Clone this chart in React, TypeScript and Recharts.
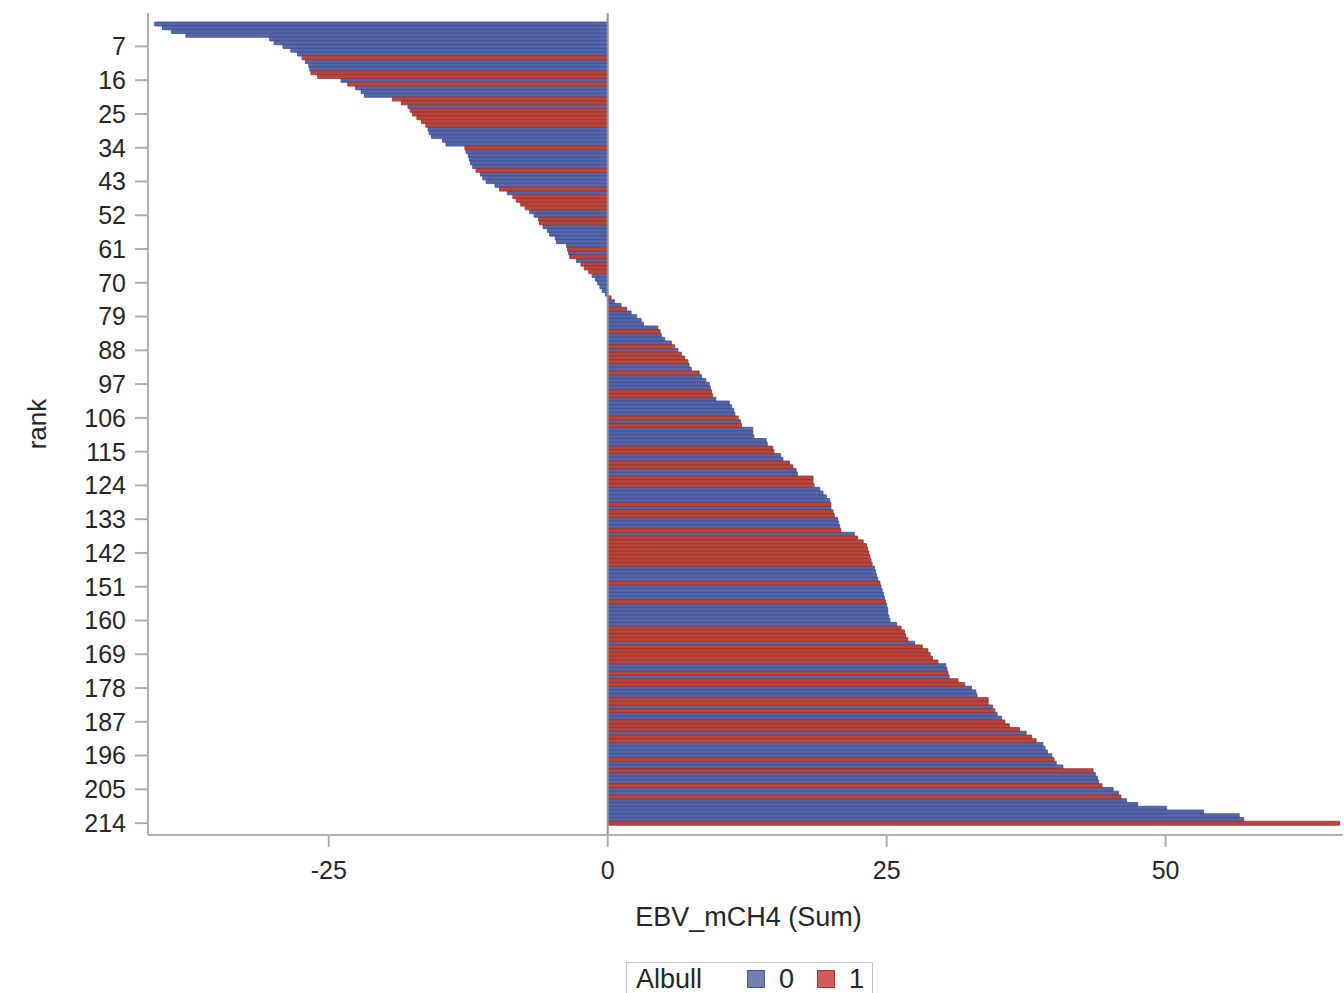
import React from "react";
import { BarChart, Bar, XAxis, YAxis, ReferenceLine } from "recharts";

// EBV_mCH4 sums by rank (1 = lowest)
const ebv = [
  -40.6, -39.9, -39.1, -37.8, -30.3, -29.9, -29.1, -28.4, -27.8, -27.4,
  -27.1, -26.8, -26.7, -26.6, -26.0, -23.9, -23.3, -22.6, -22.1, -21.8,
  -19.3, -18.5, -17.9, -17.7, -17.5, -17.1, -16.7, -16.3, -16.1, -16.0,
  -15.8, -14.8, -14.5, -12.8, -12.7, -12.5, -12.4, -12.3, -12.1, -11.8,
  -11.4, -11.2, -10.9, -10.1, -9.7, -9.0, -8.5, -8.2, -7.8, -7.4,
  -7.0, -6.6, -6.2, -6.1, -5.8, -5.4, -5.2, -4.7, -4.6, -3.7,
  -3.6, -3.5, -3.4, -2.8, -2.4, -2.1, -1.7, -1.4, -1.1, -0.9,
  -0.7, -0.5, -0.2,
  0.3, 0.6, 1.2, 1.7, 2.1, 2.6, 3.0, 3.2, 4.5, 4.7,
  4.8, 5.1, 5.7, 6.0, 6.3, 6.6, 6.9, 7.2, 7.3, 7.5,
  8.2, 8.4, 8.8, 9.1, 9.2, 9.3, 9.4, 9.7, 10.9, 11.1,
  11.3, 11.4, 11.7, 11.9, 12.0, 13.0, 13.0, 13.1, 14.2, 14.3,
  14.8, 14.9, 15.5, 15.7, 16.3, 16.6, 16.9, 17.0, 18.4, 18.4,
  18.5, 19.0, 19.3, 19.6, 19.9, 20.0, 20.0, 20.2, 20.3, 20.6,
  20.7, 20.8, 20.9, 22.1, 22.4, 22.9, 23.2, 23.3, 23.4, 23.5,
  23.6, 23.7, 23.9, 24.0, 24.1, 24.2, 24.4, 24.5, 24.6, 24.7,
  24.8, 24.9, 25.0, 25.1, 25.1, 25.2, 25.3, 25.9, 26.3, 26.6,
  26.7, 26.9, 27.5, 28.2, 28.7, 28.9, 29.1, 29.6, 30.3, 30.4,
  30.5, 30.6, 31.4, 32.0, 32.6, 33.0, 33.1, 34.1, 34.1, 34.5,
  34.7, 34.9, 35.3, 35.6, 36.0, 36.9, 37.5, 38.0, 38.4, 39.0,
  39.2, 39.4, 39.8, 40.0, 40.2, 40.8, 43.5, 43.7, 43.9, 44.0,
  44.3, 45.3, 45.8, 46.0, 46.5, 47.5, 50.1, 53.4, 56.6, 57.0,
  65.6,
];

// Albull group of each rank (0 / 1)
const albull = [
  0, 0, 0, 0, 0, 0, 0, 0, 0, 1,
  0, 0, 0, 1, 1, 0, 1, 0, 0, 0,
  1, 1, 0, 1, 1, 1, 1, 1, 0, 0,
  0, 0, 0, 1, 0, 0, 0, 0, 0, 1,
  0, 0, 0, 0, 1, 0, 1, 1, 1, 1,
  0, 0, 1, 1, 0, 0, 0, 0, 0, 0,
  1, 0, 1, 0, 1, 1, 1, 0, 0, 0,
  0, 0, 0,
  1, 0, 0, 1, 0, 0, 0, 0, 0, 1,
  0, 0, 0, 1, 0, 1, 1, 1, 0, 0,
  1, 0, 0, 0, 0, 1, 1, 0, 0, 0,
  0, 0, 1, 0, 1, 0, 0, 0, 0, 0,
  1, 1, 0, 0, 1, 1, 0, 0, 1, 1,
  1, 0, 0, 0, 0, 1, 0, 1, 1, 0,
  0, 0, 1, 0, 1, 1, 1, 1, 1, 1,
  1, 1, 0, 0, 0, 0, 1, 0, 0, 0,
  0, 1, 0, 0, 0, 0, 0, 0, 1, 1,
  1, 1, 0, 1, 1, 1, 1, 1, 0, 0,
  1, 0, 1, 1, 0, 0, 0, 1, 1, 0,
  1, 0, 0, 1, 1, 1, 0, 1, 1, 0,
  0, 0, 0, 1, 0, 0, 1, 0, 0, 0,
  1, 0, 0, 1, 0, 0, 0, 0, 0, 0,
  1,
];

const ranks = ebv.map((_, i) => i + 1);
const rankTicks = [7, 16, 25, 34, 43, 52, 61, 70, 79, 88, 97, 106, 115, 124, 133, 142, 151, 160, 169, 178, 187, 196, 205, 214];
const xTicks = [-25, 0, 25, 50];

const data = ranks.map((rank, i) => ({
  rank,
  g0: albull[i] === 0 ? ebv[i] : 0,
  g1: albull[i] === 1 ? ebv[i] : 0,
}));

const BLUE = "#5567a9";
const BLUE_EDGE = "#3d4f92";
const RED = "#b9463d";
const RED_EDGE = "#96342b";
const FRAME = "#a9afb6";
const TEXT = "#262626";

const rankLabel = (props: any) => {
  const vb = props.viewBox;
  const cx = vb.x + 37;
  const cy = vb.y + vb.height / 2;
  return (
    <text x={cx} y={cy} transform={`rotate(-90 ${cx} ${cy})`} textAnchor="middle" dominantBaseline="central" fontSize={26} fill={TEXT}>
      rank
    </text>
  );
};

const ebvLabel = (props: any) => {
  const vb = props.viewBox;
  return (
    <text x={vb.x + vb.width / 2 + 3} y={vb.y + 82} textAnchor="middle" dominantBaseline="central" fontSize={27} fill={TEXT}>
      EBV_mCH4 (Sum)
    </text>
  );
};

export default function App() {
  return (
    <div style={{ position: "absolute", left: 0, top: 0, fontFamily: "'Liberation Sans', Arial, sans-serif" }}>
      <BarChart
        width={1344}
        height={993}
        data={data}
        layout="vertical"
        barCategoryGap={0}
        margin={{ top: 13, right: 1, bottom: 0, left: 0 }}
      >
        <XAxis
          type="number"
          domain={[-41.2, 65.9]}
          ticks={xTicks}
          allowDataOverflow
          height={158}
          tickSize={12}
          tickMargin={14}
          tick={{ fontSize: 25, fill: TEXT }}
          stroke={FRAME}
          axisLine={{ stroke: FRAME, strokeWidth: 2 }}
          tickLine={{ stroke: FRAME, strokeWidth: 2 }}
          label={ebvLabel}
        />
        <XAxis
          xAxisId="top"
          orientation="top"
          type="number"
          domain={[-41.2, 65.9]}
          height={0}
          tick={false}
          tickLine={false}
          axisLine={{ stroke: FRAME, strokeWidth: 2 }}
        />
        <YAxis
          type="category"
          dataKey="rank"
          ticks={rankTicks}
          interval={0}
          width={148}
          padding={{ top: 9, bottom: 10 }}
          tickSize={13}
          tickMargin={9}
          tick={{ fontSize: 25, fill: TEXT }}
          axisLine={{ stroke: FRAME, strokeWidth: 2 }}
          tickLine={{ stroke: FRAME, strokeWidth: 2 }}
          label={rankLabel}
        />
        <Bar dataKey="g0" name="0" stackId="a" fill={BLUE} stroke={BLUE_EDGE} strokeWidth={0.8} isAnimationActive={false} />
        <Bar dataKey="g1" name="1" stackId="a" fill={RED} stroke={RED_EDGE} strokeWidth={0.8} isAnimationActive={false} />
        <ReferenceLine x={0} stroke="#8f969e" strokeWidth={2} />
      </BarChart>
      <div
        style={{
          position: "absolute",
          left: 626,
          top: 962,
          width: 247,
          height: 40,
          boxSizing: "border-box",
          border: "1px solid #c4c4c4",
          display: "flex",
          alignItems: "center",
          fontSize: 27,
          color: TEXT,
          paddingLeft: 9,
          paddingBottom: 6,
        }}
      >
        <span style={{ marginRight: 45 }}>Albull</span>
        <span style={{ width: 16, height: 16, background: "#6f7eb3", border: "1px solid #445694", display: "inline-block", marginRight: 14 }} />
        <span style={{ marginRight: 23 }}>0</span>
        <span style={{ width: 16, height: 16, background: "#d05b5b", border: "1px solid #a23a2e", display: "inline-block", marginRight: 14 }} />
        <span>1</span>
      </div>
    </div>
  );
}
